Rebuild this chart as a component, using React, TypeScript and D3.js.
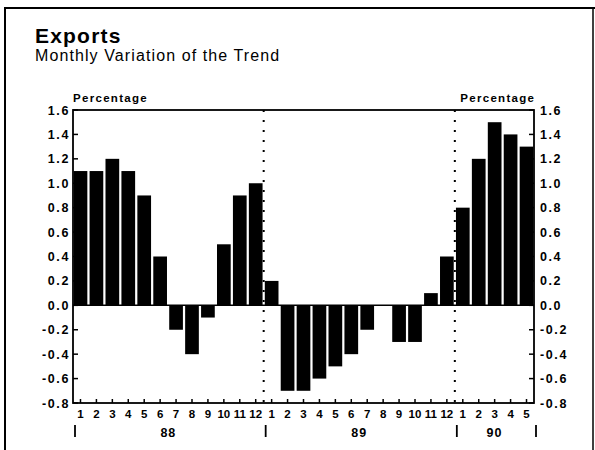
import * as d3 from 'd3';

const months88 = ['1', '2', '3', '4', '5', '6', '7', '8', '9', '10', '11', '12'];
const months89 = ['1', '2', '3', '4', '5', '6', '7', '8', '9', '10', '11', '12'];
const months90 = ['1', '2', '3', '4', '5'];
const values88 = [1.1, 1.1, 1.2, 1.1, 0.9, 0.4, -0.2, -0.4, -0.1, 0.5, 0.9, 1.0];
const values89 = [0.2, -0.7, -0.7, -0.6, -0.5, -0.4, -0.2, 0, -0.3, -0.3, 0.1, 0.4];
const values90 = [0.8, 1.2, 1.5, 1.4, 1.3];
const years = ['88', '89', '90'];
const yTicks = [-0.8, -0.6, -0.4, -0.2, 0, 0.2, 0.4, 0.6, 0.8, 1.0, 1.2, 1.4, 1.6];

const data = [
  ...months88.map((m, i) => ({ key: `88-${m}`, month: m, year: '88', value: values88[i] })),
  ...months89.map((m, i) => ({ key: `89-${m}`, month: m, year: '89', value: values89[i] })),
  ...months90.map((m, i) => ({ key: `90-${m}`, month: m, year: '90', value: values90[i] })),
];

const FONT = '"Liberation Sans", Arial, Helvetica, sans-serif';

export default function App() {
  const width = 595;
  const height = 450;
  const margin = { top: 110, right: 61, bottom: 47, left: 73 };

  const x = d3.scaleBand<string>()
    .domain(data.map((d) => d.key))
    .range([margin.left, width - margin.right])
    .paddingInner(0.14)
    .paddingOuter(0.04);
  const y = d3.scaleLinear()
    .domain([-0.8, 1.6])
    .range([height - margin.bottom, margin.top]);

  const step = x.step();
  const left = margin.left;
  const right = width - margin.right;
  const top = y(1.6);
  const bottom = y(-0.8);

  // year boundaries sit between the last month of one year and the first of the next
  const yearStart = (yr: string) => x(data.find((d) => d.year === yr)!.key)! - x.padding() * step / 2;
  const yearEnd = (yr: string) => {
    const last = data.filter((d) => d.year === yr).pop()!;
    return x(last.key)! + x.bandwidth() + x.padding() * step / 2;
  };
  const boundaries = [left, yearStart('89'), yearStart('90'), right];
  const yearCenters = years.map((yr) => (Math.max(yearStart(yr), left) + Math.min(yearEnd(yr), right)) / 2);

  const fmt = (v: number) => v.toFixed(1);

  return (
    <svg width={width} height={height} style={{ position: 'absolute', left: 0, top: 0, background: '#fff' }} fontFamily={FONT}>
      <rect width={width} height={height} fill="#fff" />
      {/* outer frame */}
      <line x1={4} x2={595} y1={8} y2={8} stroke="#000" strokeWidth={2} />
      <line x1={5} x2={5} y1={8} y2={450} stroke="#000" strokeWidth={2} />
      <line x1={593} x2={593} y1={8} y2={450} stroke="#000" strokeWidth={1.5} />

      <text x={35} y={43} fontSize={21} fontWeight="bold" letterSpacing={1.2}>Exports</text>
      <text x={35} y={61} fontSize={16} letterSpacing={1.1}>Monthly Variation of the Trend</text>

      <text x={left} y={102} fontSize={11.5} fontWeight="bold" letterSpacing={1.3}>Percentage</text>
      <text x={right + 1.3} y={102} fontSize={11.5} fontWeight="bold" letterSpacing={1.3} textAnchor="end">Percentage</text>

      {/* bars */}
      {data.map((d) => (
        <rect
          key={d.key}
          x={x(d.key)}
          width={x.bandwidth()}
          y={y(Math.max(0, d.value))}
          height={Math.abs(y(d.value) - y(0))}
          fill="#000"
        />
      ))}

      {/* zero line */}
      <line x1={left} x2={right} y1={y(0)} y2={y(0)} stroke="#000" strokeWidth={1.5} />

      {/* dotted year separators */}
      {boundaries.slice(1, 3).map((bx, i) => (
        <line key={i} x1={bx} x2={bx} y1={top} y2={bottom} stroke="#000" strokeWidth={2} strokeDasharray="2 8" />
      ))}

      {/* plot frame */}
      <rect x={left} y={top} width={right - left} height={bottom - top} fill="none" stroke="#000" strokeWidth={1.8} />

      {/* y ticks, left and right */}
      {yTicks.map((t) => (
        <g key={t}>
          <line x1={left} x2={left + 5} y1={y(t)} y2={y(t)} stroke="#000" strokeWidth={1.5} />
          <line x1={right - 5} x2={right} y1={y(t)} y2={y(t)} stroke="#000" strokeWidth={1.5} />
          <text x={70} y={y(t) + 4.5} fontSize={12.5} fontWeight="bold" letterSpacing={1.6} textAnchor="end">{fmt(t)}</text>
          <text x={540} y={y(t) + 4.5} fontSize={12.5} fontWeight="bold" letterSpacing={1.6}>{fmt(t)}</text>
        </g>
      ))}

      {/* x ticks and month labels */}
      {data.map((d) => {
        const cx = x(d.key)! + x.bandwidth() / 2;
        return (
          <g key={`t-${d.key}`}>
            <line x1={cx} x2={cx} y1={bottom} y2={bottom - 4} stroke="#000" strokeWidth={1.5} />
            <text x={cx} y={418} fontSize={11.5} fontWeight="bold" textAnchor="middle">{d.month}</text>
          </g>
        );
      })}

      {/* year separators and labels */}
      {boundaries.map((bx, i) => (
        <line key={`b-${i}`} x1={bx + 2} x2={bx + 2} y1={425} y2={437} stroke="#000" strokeWidth={1.8} />
      ))}
      {years.map((yr, i) => (
        <text key={yr} x={yearCenters[i]} y={437} fontSize={12.5} fontWeight="bold" letterSpacing={1} textAnchor="middle">{yr}</text>
      ))}
    </svg>
  );
}
